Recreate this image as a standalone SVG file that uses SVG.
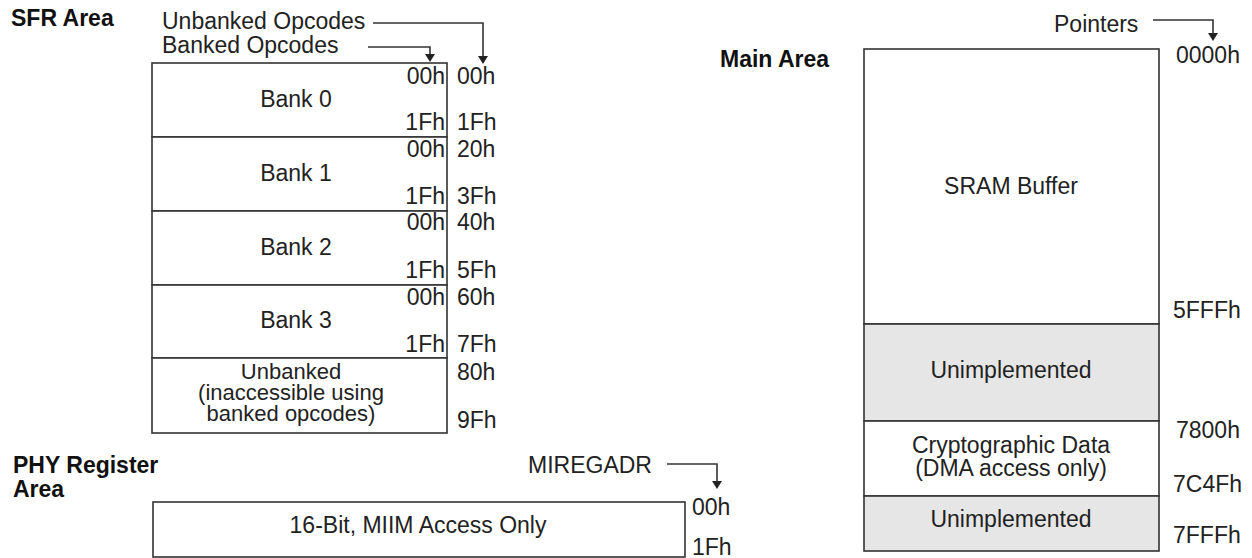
<svg xmlns="http://www.w3.org/2000/svg" width="1252" height="558" viewBox="0 0 1252 558">
<style>
text{font-family:"Liberation Sans",Arial,sans-serif;font-size:23px;fill:#222}
.t{font-weight:bold;fill:#111}
.c{text-anchor:middle}
.e{text-anchor:end}
.s{font-size:22px}
.box{fill:#fff;stroke:#333;stroke-width:1.6}
.gray{fill:#e6e6e6;stroke:#333;stroke-width:1.6}
.ln{fill:none;stroke:#333;stroke-width:1.6}
.ah{fill:#222}
</style>
<text class="t" x="11" y="26">SFR Area</text>
<text class="t" x="720" y="67">Main Area</text>
<text class="t" x="13" y="473">PHY Register</text>
<text class="t" x="13" y="497">Area</text>
<g id="connectors">
<polyline class="ln" points="373,23 483,23 483,57"/>
<path class="ah" d="M478,56 L488,56 L483,64 Z"/>
<polyline class="ln" points="368,47 430,47 430,55"/>
<path class="ah" d="M425,54 L435,54 L430,62 Z"/>
<polyline class="ln" points="1153,20 1213,20 1213,34"/>
<path class="ah" d="M1208,33 L1218,33 L1213,41 Z"/>
<polyline class="ln" points="667,464 717,464 717,482"/>
<path class="ah" d="M712,481 L722,481 L717,489 Z"/>
</g>
<g id="labels">
<text x="162" y="29">Unbanked Opcodes</text>
<text x="162" y="53">Banked Opcodes</text>
<text x="1054" y="32">Pointers</text>
<text x="528" y="473">MIREGADR</text>
</g>
<g id="bank0">
<rect class="box" x="152" y="63" width="295" height="74"/>
<text class="c" x="296" y="107">Bank 0</text>
<text class="e" x="445" y="84">00h</text>
<text class="e" x="445" y="130">1Fh</text>
<text x="457" y="84">00h</text>
<text x="457" y="130">1Fh</text>
</g>
<g id="bank1">
<rect class="box" x="152" y="137" width="295" height="74"/>
<text class="c" x="296" y="181">Bank 1</text>
<text class="e" x="445" y="157">00h</text>
<text class="e" x="445" y="204">1Fh</text>
<text x="457" y="157">20h</text>
<text x="457" y="204">3Fh</text>
</g>
<g id="bank2">
<rect class="box" x="152" y="211" width="295" height="74"/>
<text class="c" x="296" y="255">Bank 2</text>
<text class="e" x="445" y="230">00h</text>
<text class="e" x="445" y="278">1Fh</text>
<text x="457" y="230">40h</text>
<text x="457" y="278">5Fh</text>
</g>
<g id="bank3">
<rect class="box" x="152" y="285" width="295" height="73"/>
<text class="c" x="296" y="328">Bank 3</text>
<text class="e" x="445" y="305">00h</text>
<text class="e" x="445" y="352">1Fh</text>
<text x="457" y="305">60h</text>
<text x="457" y="352">7Fh</text>
</g>
<g id="unbanked">
<rect class="box" x="152" y="358" width="295" height="75"/>
<text class="c s" x="291" y="379">Unbanked</text>
<text class="c s" x="291" y="400">(inaccessible using</text>
<text class="c s" x="291" y="421">banked opcodes)</text>
<text x="457" y="380">80h</text>
<text x="457" y="428">9Fh</text>
</g>
<g id="phy">
<rect class="box" x="153" y="502" width="532" height="55"/>
<text class="c" x="418" y="533">16-Bit, MIIM Access Only</text>
<text x="692" y="515">00h</text>
<text x="692" y="555">1Fh</text>
</g>
<g id="sram">
<rect class="box" x="864" y="49" width="295" height="275"/>
<text class="c" x="1011" y="194">SRAM Buffer</text>
<text x="1176" y="63">0000h</text>
<text x="1173" y="318">5FFFh</text>
</g>
<g id="unimpl1">
<rect class="gray" x="864" y="324" width="295" height="97"/>
<text class="c" x="1011" y="378">Unimplemented</text>
</g>
<g id="crypto">
<rect class="box" x="864" y="421" width="295" height="75"/>
<text class="c" x="1011" y="453">Cryptographic Data</text>
<text class="c" x="1011" y="476">(DMA access only)</text>
<text x="1176" y="438">7800h</text>
<text x="1173" y="492">7C4Fh</text>
</g>
<g id="unimpl2">
<rect class="gray" x="864" y="496" width="295" height="55"/>
<text class="c" x="1011" y="527">Unimplemented</text>
<text x="1173" y="543">7FFFh</text>
</g>
</svg>
